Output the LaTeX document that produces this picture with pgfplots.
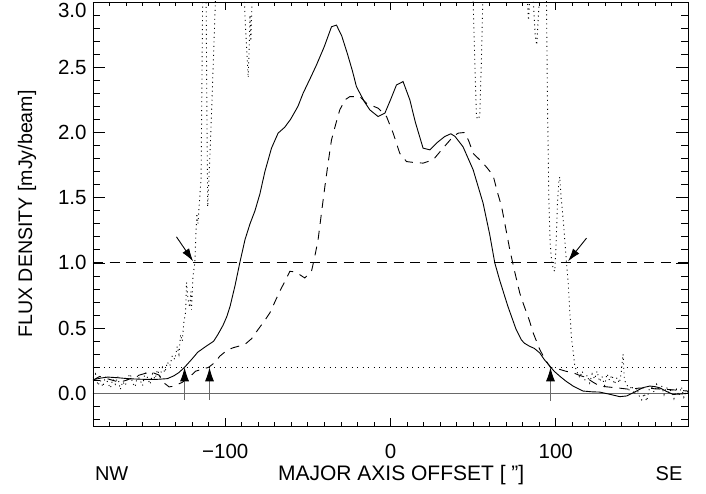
\documentclass[border=0pt]{standalone}
\usepackage{fontspec}
\setmainfont{Liberation Sans}
\usepackage{pgfplots}
\pgfplotsset{compat=1.18}
\usetikzlibrary{arrows.meta}
\definecolor{zgray}{RGB}{105,105,105}
\newcommand{\bigf}{\fontsize{20.5}{24}\selectfont}
\begin{document}
\fontsize{18.6}{22}\selectfont
\begin{tikzpicture}
\begin{axis}[name=A, scale only axis, width=595pt, height=424pt,
  xmin=-180, xmax=180, ymin=-0.25, ymax=3.0,
  xtick=\empty,
  ytick={0,0.5,1,1.5,2,2.5}, yticklabels={0.0,0.5,1.0,1.5,2.0,2.5},
  extra y ticks={3}, extra y tick labels={3.0},
  yticklabel style={font=\bigf},
  extra y tick style={yticklabel style={yshift=-8.5pt}},
  minor ytick={-0.2,-0.1,...,2.95},
  tick align=inside, major tick length=11.7pt, minor tick length=6.7pt,
  axis line style={line width=0.8pt}, tick style={line width=0.8pt, black},
  ylabel={FLUX DENSITY [mJy/beam]},
  every axis y label/.style={at={(axis description cs:-0.1025,0.5)}, rotate=90, anchor=base, font=\fontsize{19.6}{23}\selectfont},
  xlabel={MAJOR AXIS OFFSET [ "]},
  every axis x label/.style={at={(axis description cs:0.518,-0.1274)}, anchor=base, font=\fontsize{21}{24}\selectfont},
  clip=true]
% reference lines
\addplot[zgray, line width=0.9pt] coordinates {(-180,0) (180,0)};
\addplot[black, line width=0.9pt, dash pattern=on 10pt off 6.7pt] coordinates {(-180,1) (180,1)};
\addplot[black, line width=0.9pt, dash pattern=on 1pt off 4.5pt] coordinates {(-180,0.2) (180,0.2)};
% solid curve
\addplot[black, line width=0.9pt] coordinates {
(-180,0.105)(-175,0.118)(-171,0.125)(-165,0.12)(-158,0.112)(-150,0.108)(-142,0.107)(-135,0.113)(-131,0.135)(-128,0.16)(-124.6,0.2)(-120,0.265)(-116.6,0.316)(-111.7,0.36)(-107,0.40)(-104.5,0.45)(-101.4,0.52)(-99,0.59)(-97,0.67)(-94,0.83)(-91.2,1.0)(-88,1.18)(-85,1.30)(-82,1.40)(-79,1.53)(-76,1.70)(-72,1.88)(-68,1.995)(-64,2.04)(-60.5,2.10)(-56,2.20)(-52.9,2.30)(-48,2.43)(-44.8,2.517)(-40,2.66)(-35.7,2.81)(-32.7,2.823)(-29.5,2.74)(-26,2.60)(-23,2.47)(-20.6,2.351)(-16,2.24)(-12.5,2.173)(-7.5,2.122)(-3.4,2.148)(0,2.25)(3.6,2.364)(7.6,2.39)(11.7,2.25)(15,2.08)(19.7,1.88)(23.8,1.867)(28,1.92)(32.8,1.969)(36.5,1.99)(39,1.97)(43.9,1.89)(50,1.714)(56,1.459)(60,1.22)(63.1,1.0)(66,0.87)(71,0.668)(76,0.49)(79.2,0.41)(81,0.385)(84,0.362)(87,0.345)(90.3,0.31)(93,0.26)(96.4,0.209)(99,0.17)(102.4,0.132)(106,0.095)(110.5,0.056)(116.5,0.018)(122,0.012)(126.6,0.01)(132,-0.005)(138.7,-0.025)(142.8,-0.02)(148.8,0.018)(153,0.045)(156.9,0.056)(160,0.052)(162.9,0.043)(167,0.015)(171,-0.008)(175,-0.005)(180,0.0)
};
% dashed curve
\addplot[black, line width=0.9pt, dash pattern=on 9pt off 7pt] coordinates {
(-180,0.10)(-176,0.13)(-172,0.115)(-168,0.10)(-164,0.085)(-160,0.10)(-156,0.12)(-152,0.14)(-148,0.155)(-144,0.16)(-140,0.14)(-137,0.08)(-134,0.05)(-131,0.055)(-126,0.085)(-122,0.12)(-118,0.17)(-114,0.185)(-110,0.2)(-106,0.24)(-103.3,0.285)(-99,0.33)(-95.2,0.35)(-88.1,0.375)(-84,0.42)(-80.1,0.49)(-76,0.56)(-73,0.617)(-67,0.783)(-63,0.88)(-60.9,0.936)(-57.5,0.93)(-54.9,0.91)(-51.9,0.885)(-47.8,0.936)(-45.8,1.05)(-43.8,1.178)(-41.8,1.38)(-39.7,1.586)(-37.7,1.77)(-35.7,1.943)(-33,2.07)(-30.7,2.173)(-27.5,2.25)(-24.6,2.275)(-18.6,2.275)(-14.6,2.224)(-7.5,2.186)(-2.4,2.122)(1.6,1.995)(5.6,1.84)(9.7,1.777)(14,1.77)(19.7,1.765)(25.8,1.79)(31.8,1.88)(37.9,1.969)(41,1.995)(45,2.0)(47.5,1.93)(50,1.84)(56,1.765)(59,1.72)(62.1,1.67)(64.5,1.55)(67.2,1.433)(69.5,1.28)(72.2,1.10)(75,0.94)(78.2,0.77)(80,0.70)(84,0.56)(86.3,0.464)(90.3,0.337)(93.5,0.26)(96.8,0.2)(100,0.19)(102.4,0.184)(106,0.17)(110.5,0.158)(114,0.14)(118.6,0.12)(122,0.09)(126.6,0.056)(131,0.05)(136.7,0.043)(144.8,0.031)(150,0.04)(154.9,0.043)(160,0.035)(167,0.031)(173,0.025)(180,0.018)
};
% dotted curve
\addplot[black, line width=0.9pt, dash pattern=on 1pt off 3.5pt] coordinates {
(-180,0.12)(-178.5,0.15)(-177,0.06)(-175.5,0.10)(-174,0.05)(-172.5,0.13)(-171,0.08)(-169.5,0.04)(-168,0.11)(-166.5,0.07)(-165,0.13)(-163.5,0.03)(-162,0.09)(-160.5,0.06)(-159,0.12)(-157.5,0.15)(-156,0.08)(-154.5,0.05)(-153,0.14)(-151.5,0.10)(-150,0.06)(-148.5,0.16)(-147,0.12)(-145.5,0.07)(-144,0.15)(-142.5,0.11)(-141,0.18)(-139.5,0.13)(-138,0.20)(-136.5,0.16)(-135,0.24)(-133.5,0.21)(-132,0.29)(-130.5,0.26)(-129,0.36)(-128,0.30)(-127,0.45)(-126,0.40)(-125,0.55)(-124,0.62)(-123.4,0.85)(-122.5,0.72)(-121.5,0.66)(-120.8,0.78)(-120.4,0.64)(-119.5,0.90)(-118.4,1.0)(-117.8,1.2)(-117.2,1.38)(-116.5,1.30)(-115.8,1.43)(-114.6,1.65)(-113.6,3.1)(-112.6,3.2)(-111.6,3.1)(-111,2.0)(-110.6,1.43)(-109,1.9)(-107.3,2.5)(-105.7,3.1)(-100,3.5)(-89.5,3.5)(-88.8,3.1)(-87.5,2.75)(-86.1,2.42)(-85.5,2.65)(-85,2.9)(-84.5,2.7)(-83.5,3.1)(-80,3.5)(48,3.5)(49.8,3.1)(51,2.55)(52,2.12)(53,2.1)(54,2.13)(55,2.55)(56,3.1)(60,3.5)(81,3.5)(82.5,3.1)(83.5,2.86)(84.5,3.1)(86,3.1)(87.5,2.75)(88.5,2.67)(89.5,2.9)(90.5,3.1)(93,3.5)(94.3,3.1)(95,2.2)(95.8,1.5)(96.6,1.15)(97.4,1.025)(98.5,0.95)(99.4,0.936)(100.2,1.15)(101,1.45)(101.8,1.62)(102.4,1.66)(103.2,1.5)(104,1.4)(105,1.25)(106.5,1.0)(107.5,0.85)(108.5,0.62)(109.5,0.426)(110.5,0.32)(111.5,0.21)(113,0.16)(114.5,0.12)(116,0.17)(117.5,0.10)(119,0.14)(120.5,0.08)(122,0.15)(123.5,0.11)(125,0.17)(126.5,0.09)(128,0.13)(129.5,0.06)(131,0.15)(132.5,0.10)(134,0.14)(135.5,0.07)(137,0.12)(138.5,0.08)(139.5,0.15)(140.7,0.30)(141.5,0.10)(143,0.07)(144.5,0.02)(146,0.06)(147.5,-0.01)(149,0.04)(150.5,-0.02)(152,-0.05)(153.5,0.00)(155,-0.06)(156.5,0.03)(158,0.05)(159.5,0.01)(161,0.07)(162.5,0.02)(164,0.06)(165.5,-0.01)(167,0.05)(168.5,0.0)(170,0.04)(171.5,-0.04)(173,0.03)(174.5,-0.02)(176,0.05)(177.5,-0.03)(179,0.02)(180,0.01)
};
% arrows
\draw[zgray, line width=1pt, -{Latex[black, length=14pt, width=9pt]}] (axis cs:-124.6,-0.05) -- (axis cs:-124.6,0.2);
\draw[zgray, line width=1pt, -{Latex[black, length=14pt, width=9pt]}] (axis cs:-109.5,-0.05) -- (axis cs:-109.5,0.2);
\draw[zgray, line width=1pt, -{Latex[black, length=14pt, width=9pt]}] (axis cs:96.8,-0.06) -- (axis cs:96.8,0.2);
\draw[black, line width=0.9pt, -{Latex[black, length=13pt, width=8pt]}] (axis cs:-129.5,1.2) -- (axis cs:-119.4,1.012);
\draw[black, line width=0.9pt, -{Latex[black, length=13pt, width=8pt]}] (axis cs:118.6,1.19) -- (axis cs:107.4,1.012);
\end{axis}
\begin{axis}[scale only axis, width=595pt, height=424pt,
  xmin=-180, xmax=180, ymin=-0.25, ymax=3.0,
  ytick=\empty, xtick={-100,0,100}, xticklabels={−100,0,100},
  minor xtick={-170,-160,...,170},
  tick align=inside, major tick length=7.7pt, minor tick length=4.3pt,
  axis line style={line width=0.8pt}, tick style={line width=0.8pt, black},
  xticklabel style={anchor=base, yshift=-32pt, font=\bigf}]
\end{axis}
\node[anchor=base, font=\fontsize{20}{24}\selectfont] at ([shift={(18.7pt,-54pt)}]A.south west) {NW};
\node[anchor=base, font=\fontsize{20}{24}\selectfont] at ([shift={(-19pt,-54pt)}]A.south east) {SE};
\pgfresetboundingbox
\path[use as bounding box] ([shift={(-93pt,-67pt)}]A.south west) rectangle ([shift={(18pt,2pt)}]A.north east);
\end{tikzpicture}
\end{document}
